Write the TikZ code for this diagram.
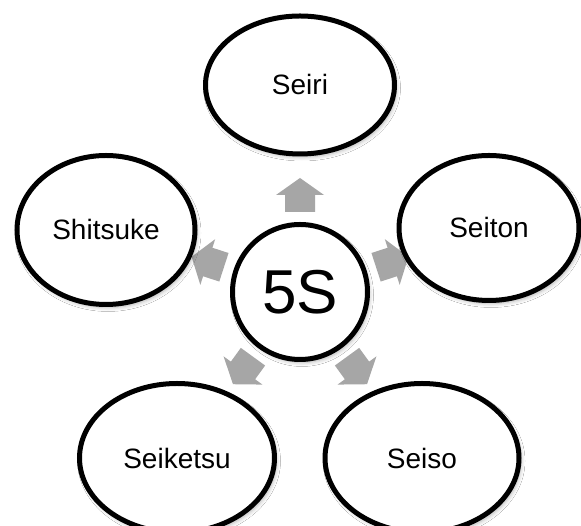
\documentclass[tikz,border=0pt]{standalone}
\usepackage{fontspec}
\setmainfont{Liberation Sans}
\usetikzlibrary{shapes.geometric,shadows.blur}
\definecolor{arrowgray}{RGB}{166,166,166}
\begin{document}
\begin{tikzpicture}[x=1pt,y=1pt,
  softshadow/.style={blur shadow={shadow xshift=2pt, shadow yshift=-3pt, shadow blur radius=4pt, shadow blur steps=6, shadow opacity=30}},
  petal/.style={ellipse, draw=black, line width=5pt, fill=white, inner sep=0pt,
    font=\fontsize{28}{32}\selectfont, softshadow},
  hub/.style={circle, draw=black, line width=5pt, fill=white, inner sep=0pt,
    minimum size=135pt, font=\fontsize{62}{66}\selectfont, softshadow},
  blockarrow/.style={fill=arrowgray, draw=none}
]
\useasboundingbox (0,0) rectangle (581,526);
\clip (0,0) rectangle (581,526);
\fill[white] (0,0) rectangle (581,526);

\node[hub] (hub) at (300,234) {5S};

\foreach \a in {90,18,-54,-126,162}{
  \begin{scope}[shift={(hub.center)}, rotate=\a]
    \fill[blockarrow] (80,-15) -- (97,-15) -- (97,-24) -- (114,0) -- (97,24) -- (97,15) -- (80,15) -- cycle;
  \end{scope}
}

\node[petal, minimum width=189pt, minimum height=138pt] (seiri) at (300,441) {Seiri};
\node[petal, minimum width=180pt, minimum height=145pt] (seiton) at (489,298) {Seiton};
\node[petal, minimum width=178pt, minimum height=149pt] (shitsuke) at (106,296) {Shitsuke};
\node[petal, minimum width=195pt, minimum height=149pt] (seiketsu) at (177,68) {Seiketsu};
\node[petal, minimum width=194pt, minimum height=149pt] (seiso) at (422,68) {Seiso};
\end{tikzpicture}
\end{document}
